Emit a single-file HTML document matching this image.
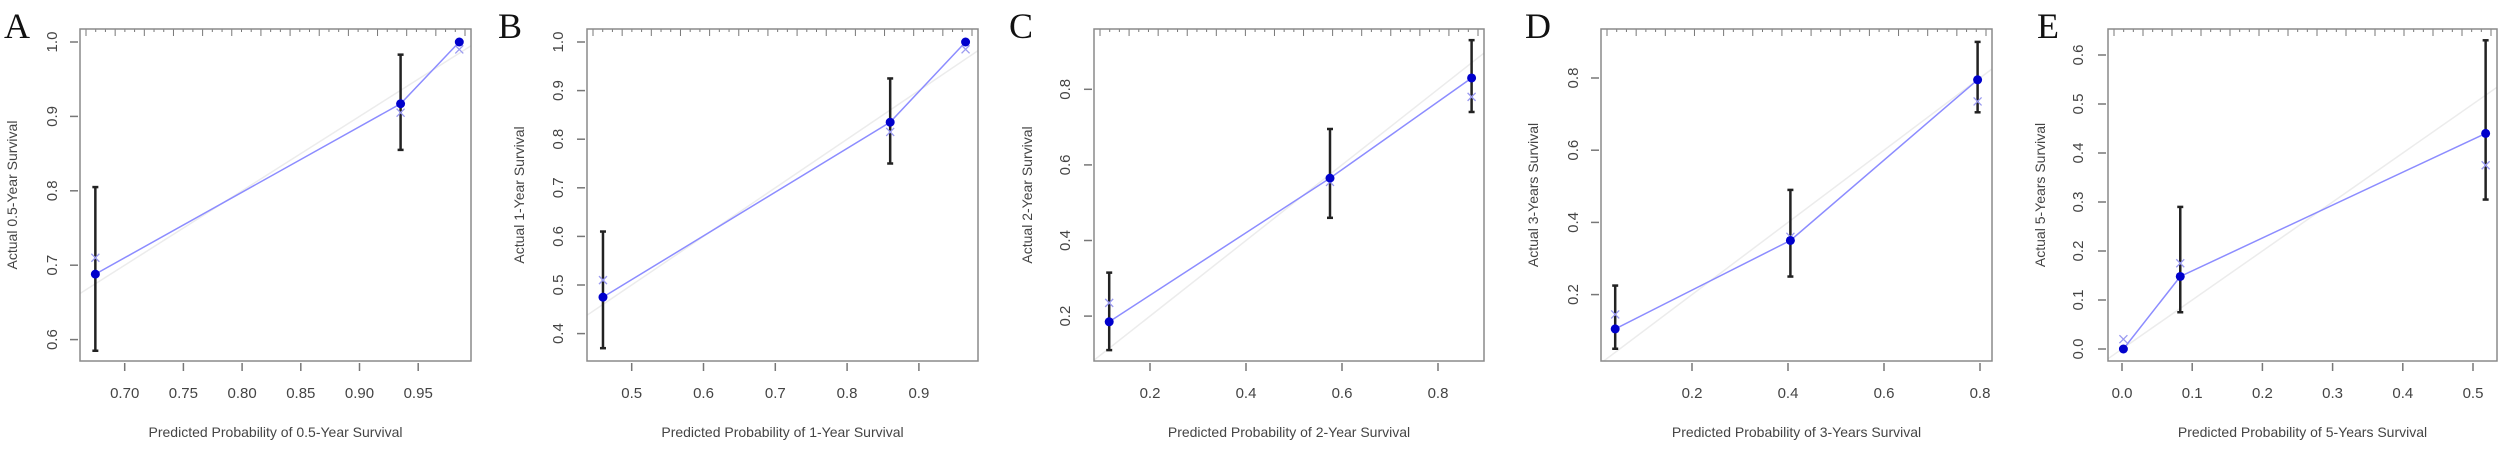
<!DOCTYPE html>
<html><head><meta charset="utf-8"><style>
html,body{margin:0;padding:0;background:#fff;}
svg{display:block;font-family:"Liberation Sans",Arial,sans-serif;}
</style></head><body>
<svg id="fig" width="2500" height="449" viewBox="0 0 2500 449" xmlns="http://www.w3.org/2000/svg"></svg>
<script>
// Panel A data
const predA=[0.675,0.935,0.985]; const obsA=[0.688,0.917,1.0]; const loA=[0.585,0.855,null]; const hiA=[0.805,0.983,null]; const estA=[0.71,0.905,0.99];
const xTicksA=["0.70","0.75","0.80","0.85","0.90","0.95"]; const yTicksA=["0.6","0.7","0.8","0.9","1.0"];
// Panel B data
const predB=[0.46,0.86,0.965]; const obsB=[0.475,0.835,1.0]; const loB=[0.37,0.75,null]; const hiB=[0.61,0.925,null]; const estB=[0.51,0.815,0.985];
const xTicksB=["0.5","0.6","0.7","0.8","0.9"]; const yTicksB=["0.4","0.5","0.6","0.7","0.8","0.9","1.0"];
// Panel C data
const predC=[0.115,0.575,0.87]; const obsC=[0.185,0.565,0.83]; const loC=[0.11,0.46,0.74]; const hiC=[0.315,0.695,0.93]; const estC=[0.235,0.555,0.78];
const xTicksC=["0.2","0.4","0.6","0.8"]; const yTicksC=["0.2","0.4","0.6","0.8"];
// Panel D data
const predD=[0.04,0.405,0.795]; const obsD=[0.105,0.35,0.795]; const loD=[0.05,0.25,0.705]; const hiD=[0.225,0.49,0.9]; const estD=[0.145,0.36,0.735];
const xTicksD=["0.2","0.4","0.6","0.8"]; const yTicksD=["0.2","0.4","0.6","0.8"];
// Panel E data
const predE=[0.002,0.083,0.518]; const obsE=[0.0,0.148,0.44]; const loE=[null,0.075,0.305]; const hiE=[null,0.29,0.63]; const estE=[0.02,0.175,0.375];
const xTicksE=["0.0","0.1","0.2","0.3","0.4","0.5"]; const yTicksE=["0.0","0.1","0.2","0.3","0.4","0.5","0.6"];

const panels=[
 {id:"a",letter:"A",lx:4,box:[80,29,471,361],x0:0.70,xp0:124.7,xs:1174,y0:1.0,yp0:42,ys:744,ytx:52,ttx:12,
  xt:"Predicted Probability of 0.5-Year Survival",yt:"Actual 0.5-Year Survival",pred:predA,obs:obsA,lo:loA,hi:hiA,est:estA,xTicks:xTicksA,yTicks:yTicksA},
 {id:"b",letter:"B",lx:498,box:[587,29,978,361],x0:0.5,xp0:631.7,xs:718,y0:1.0,yp0:42,ys:486,ytx:558,ttx:519,
  xt:"Predicted Probability of 1-Year Survival",yt:"Actual 1-Year Survival",pred:predB,obs:obsB,lo:loB,hi:hiB,est:estB,xTicks:xTicksB,yTicks:yTicksB},
 {id:"c",letter:"C",lx:1009,box:[1094,29,1484,361],x0:0.2,xp0:1150,xs:480,y0:0.8,yp0:89.3,ys:378,ytx:1065,ttx:1027,
  xt:"Predicted Probability of 2-Year Survival",yt:"Actual 2-Year Survival",pred:predC,obs:obsC,lo:loC,hi:hiC,est:estC,xTicks:xTicksC,yTicks:yTicksC},
 {id:"d",letter:"D",lx:1525,box:[1601,29,1992,361],x0:0.2,xp0:1692,xs:480,y0:0.8,yp0:78,ys:361,ytx:1573,ttx:1533,
  xt:"Predicted Probability of 3-Years Survival",yt:"Actual 3-Years Survival",pred:predD,obs:obsD,lo:loD,hi:hiD,est:estD,xTicks:xTicksD,yTicks:yTicksD},
 {id:"e",letter:"E",lx:2037,box:[2108,29,2497,361],x0:0.0,xp0:2122,xs:702,y0:0.0,yp0:349,ys:490,ytx:2078,ttx:2040,
  xt:"Predicted Probability of 5-Years Survival",yt:"Actual 5-Years Survival",pred:predE,obs:obsE,lo:loE,hi:hiE,est:estE,xTicks:xTicksE,yTicks:yTicksE}
];
const NS="http://www.w3.org/2000/svg";
const svg=document.getElementById("fig");
function mk(tag,attrs,parent){const e=document.createElementNS(NS,tag);for(const k in attrs)e.setAttribute(k,attrs[k]);(parent||svg).appendChild(e);return e;}
panels.forEach(p=>{
 const g=mk("g",{});
 
 
 const X=v=>p.xp0+(v-p.x0)*p.xs;
 const Y=v=>p.yp0-(v-p.y0)*p.ys;
 const [bx0,by0,bx1,by1]=p.box;
 const L=mk("text",{x:p.lx,y:38,"font-family":"Liberation Serif,serif","font-size":36,fill:"#111"},g);
 L.textContent=p.letter;
 
 
 const cp=mk("clipPath",{id:"clip"+p.id},g); mk("rect",{x:bx0,y:by0,width:bx1-bx0,height:by1-by0},cp);
 const pl=mk("g",{"clip-path":"url(#clip"+p.id+")"},g);
 const lo=Math.min((bx0-p.xp0)/p.xs+p.x0,(p.yp0-by1)/p.ys+p.y0), hi=Math.max((bx1-p.xp0)/p.xs+p.x0,(p.yp0-by0)/p.ys+p.y0);
 const d=mk("line",{x1:X(lo),y1:Y(lo),x2:X(hi),y2:Y(hi),stroke:"#ececec","stroke-width":1.5},pl);
 
 
 const rug=mk("g",{stroke:"#777","stroke-width":1},pl);
 
 
 for(let i=0;i<40;i++){const xv=bx0+6+i*(bx1-bx0-12)/39;mk("line",{x1:xv,y1:by0,x2:xv,y2:by0+(i%3==0?7:3)},rug);}
 const pts=p.pred.map((v,i)=>X(v)+","+Y(p.obs[i])).join(" ");
 const cl=mk("polyline",{points:pts,fill:"none",stroke:"#8c8cff","stroke-width":1.5},pl);
 
 
 p.pred.forEach((v,i)=>{
  if(p.lo[i]!==null){
   const e=mk("g",{stroke:"#222","stroke-width":2.5},pl);
   
   
   mk("line",{x1:X(v),y1:Y(p.lo[i]),x2:X(v),y2:Y(p.hi[i])},e);
   mk("line",{x1:X(v)-3,y1:Y(p.lo[i]),x2:X(v)+3,y2:Y(p.lo[i])},e);
   mk("line",{x1:X(v)-3,y1:Y(p.hi[i]),x2:X(v)+3,y2:Y(p.hi[i])},e);
  }
  const xe=X(v),ye=Y(p.est[i]);
  const xm=mk("path",{d:`M${xe-4},${ye-4}L${xe+4},${ye+4}M${xe-4},${ye+4}L${xe+4},${ye-4}`,stroke:"#9a9af0","stroke-width":1.3,fill:"none"},pl);
  
  
  const c=mk("circle",{cx:X(v),cy:Y(p.obs[i]),r:4.5,fill:"#0000cc"},pl);
  
  
 });
 const box=mk("rect",{x:bx0,y:by0,width:bx1-bx0,height:by1-by0,fill:"none",stroke:"#8a8a8a","stroke-width":1.5},g);
 
 
 const xa=mk("g",{},g);
 
 
 p.xTicks.forEach(t=>{const xv=X(parseFloat(t));
  mk("line",{x1:xv,y1:by1+2,x2:xv,y2:by1+10,stroke:"#777","stroke-width":1.5},xa);
  const tx=mk("text",{x:xv,y:398,"text-anchor":"middle","font-size":15,fill:"#444"},xa);tx.textContent=t;
  
  });
 const xtl=mk("text",{x:(bx0+bx1)/2,y:437,"text-anchor":"middle","font-size":14,fill:"#444"},g);xtl.textContent=p.xt;
 
 
 const ya=mk("g",{},g);
 
 
 p.yTicks.forEach(t=>{const yv=Y(parseFloat(t));
  mk("line",{x1:bx0-2,y1:yv,x2:bx0-10,y2:yv,stroke:"#777","stroke-width":1.5},ya);
  const tx=mk("text",{x:p.ytx+5,y:yv,"text-anchor":"middle","font-size":15,fill:"#444",transform:`rotate(-90 ${p.ytx+5} ${yv})`},ya);tx.textContent=t;
  
  });
 const cy=(by0+by1)/2, tx=p.ttx+5;
 const ytl=mk("text",{x:tx,y:cy,"text-anchor":"middle","font-size":14,fill:"#444",transform:`rotate(-90 ${tx} ${cy})`},g);ytl.textContent=p.yt;
 
 
});
</script>
</body></html>
